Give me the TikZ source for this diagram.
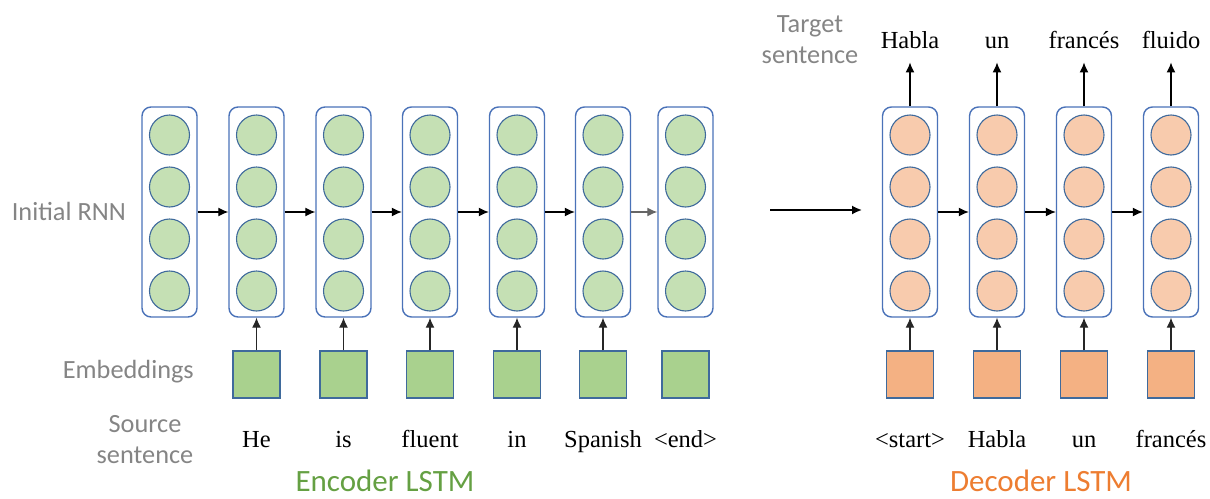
\documentclass[tikz,border=0pt]{standalone}
\usepackage{fontspec}
\setmainfont{Liberation Serif}
\newfontfamily\labelfont{Carlito}
\usetikzlibrary{arrows.meta}

\definecolor{boxline}{HTML}{4A72B8}
\definecolor{cellline}{HTML}{3F6A9C}
\definecolor{encfill}{HTML}{C5E0B4}
\definecolor{encsq}{HTML}{A9D18E}
\definecolor{decfill}{HTML}{F8CBAD}
\definecolor{decsq}{HTML}{F4B183}
\definecolor{labelgray}{HTML}{858585}
\definecolor{encgreen}{HTML}{65A043}
\definecolor{decorange}{HTML}{ED7D31}

\tikzset{
  colbox/.style={draw=boxline, line width=1.4pt, rounded corners=9pt,
    minimum width=55pt, minimum height=210pt, inner sep=0pt},
  enccell/.style={circle, draw=cellline, line width=1.1pt, fill=encfill,
    minimum size=40pt, inner sep=0pt},
  deccell/.style={enccell, fill=decfill},
  encemb/.style={draw=cellline, line width=1.1pt, fill=encsq,
    minimum size=47pt, inner sep=0pt},
  decemb/.style={encemb, fill=decsq},
  word/.style={font=\fontsize{24.5}{28}\selectfont, anchor=base, inner sep=0pt},
  sidelabel/.style={font=\labelfont\fontsize{26.3}{31}\selectfont, text=labelgray,
    inner sep=0pt, align=center},
  title/.style={font=\labelfont\fontsize{31}{36}\selectfont, anchor=base, inner sep=0pt},
  arr/.style={-{Latex[length=10pt,width=9pt]}, line width=1.3pt, black},
  embarr/.style={-{Latex[length=10pt,width=9pt]}, line width=1.3pt, black!85},
}

\begin{document}
\begin{tikzpicture}[x=1pt, y=-1pt]
\useasboundingbox (0,0) rectangle (1210,498);

% encoder columns with their four hidden units
\foreach \i/\x in {1/169.5, 2/256.5, 3/343.5, 4/430, 5/517, 6/603, 7/685.5} {
  \node[colbox] (e\i) at (\x,212) {};
  \foreach \k/\y in {1/135, 2/187, 3/239, 4/291}
    \node[enccell] (e\i c\k) at (\x,\y) {};
}

% encoder embeddings and source words
\foreach \i/\x/\w in {2/256.5/He, 3/343.5/is, 4/430/fluent, 5/517/in,
                      6/603/Spanish, 7/685.5/\textless end\textgreater} {
  \node[encemb] (es\i) at (\x,374.5) {};
  \node[word] (ew\i) at (\x,447) {\w};
}
\foreach \i in {2,...,6}
  \draw[embarr] (es\i.north) -- (e\i.south);

% recurrent connections of the encoder
\foreach \i/\j in {1/2, 2/3, 3/4, 4/5, 5/6}
  \draw[arr] (e\i.east) -- (e\j.west);
\draw[-{Latex[length=10pt,width=9pt]}, line width=1.3pt, black!60] (e6.east) -- (e7.west);

% hand-over from encoder to decoder
\coordinate (hA) at (770,210);
\coordinate (hB) at (862,210);
\draw[arr, line width=1.7pt] (hA) -- (hB);

% decoder columns
\foreach \i/\x in {1/910, 2/997, 3/1084, 4/1171} {
  \node[colbox] (d\i) at (\x,212) {};
  \foreach \k/\y in {1/135, 2/187, 3/239, 4/291}
    \node[deccell] (d\i c\k) at (\x,\y) {};
}

% decoder embeddings, input words and output words
\foreach \i/\x/\w/\o in {1/910/\textless start\textgreater/Habla, 2/997/Habla/un,
                         3/1084/un/francés, 4/1171/francés/fluido} {
  \node[decemb] (ds\i) at (\x,374.5) {};
  \node[word] (dw\i) at (\x,447) {\w};
  \node[word] (do\i) at (\x,48) {\o};
  \draw[embarr] (ds\i.north) -- (d\i.south);
  \draw[arr, shorten >=14pt] (d\i.north) -- (do\i.south);
}
\foreach \i/\j in {1/2, 2/3, 3/4}
  \draw[arr] (d\i.east) -- (d\j.west);

% side labels and titles
\node[sidelabel, anchor=east] (lrnn) at (126,211) {Initial RNN};
\node[sidelabel, anchor=east] (lemb) at (194,372) {Embeddings};
\node[sidelabel] (lsrc) at (145,440) {Source\\sentence};
\node[sidelabel] (ltgt) at (810,40) {Target\\sentence};
\node[title, text=encgreen] (tenc) at (385,491) {Encoder LSTM};
\node[title, text=decorange] (tdec) at (1041,491) {Decoder LSTM};
\end{tikzpicture}
\end{document}
